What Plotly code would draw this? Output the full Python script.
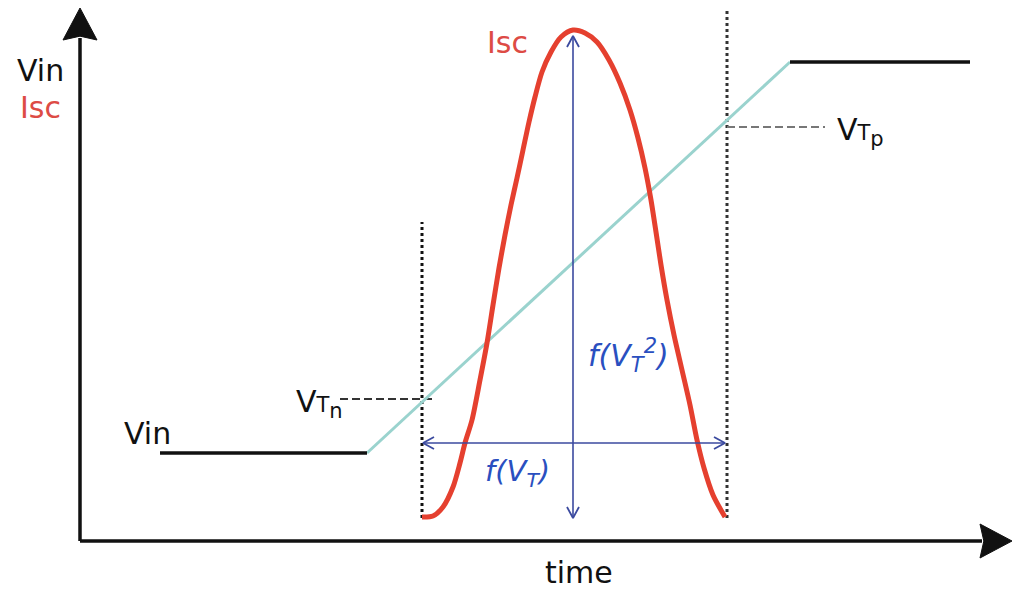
import numpy as np
import plotly.graph_objects as go

# ---- diagram data (time / level units, origin at the axes corner) ----
axis_time_end = 932          # tip of the time axis arrow
axis_level_end = 533         # tip of the level axis arrow

# Input voltage: low level, linear ramp, high level
vin_time = [80, 287, 710, 890]
vin_level = [88, 88, 479, 479]

# Threshold levels and the times at which the ramp crosses them
vtn_level = 142
vtp_level = 414
t_vtn = 342
t_vtp = 647
vtn_marker_top = 319
vtp_marker_top = 531
marker_bottom = 23

# Short-circuit current pulse
isc_time = [342, 353, 363, 373, 380, 385, 392, 400, 407, 413, 419, 425, 431, 437,
            443, 449, 455, 462, 471, 481, 493, 505, 517, 529, 540, 550, 558, 565,
            571, 576, 581, 587, 594, 602, 610, 617, 624, 633, 645]
isc_level = [24, 25, 34, 54, 78, 98, 121, 161, 198, 236, 273, 306, 336, 363,
             391, 419, 444, 469, 489, 504, 511, 508, 499, 481, 458, 431, 403, 373,
             341, 309, 276, 241, 206, 171, 136, 101, 73, 46, 24]

# Dimension arrows: width f(VT) and height f(VT^2)
width_arrow_level = 98
width_arrow_time = [343, 645]
height_arrow_time = 493
height_arrow_level = [23, 505]

FONT = "DejaVu Sans"
BLACK = "#111111"
RED_LINE = "#e5402f"
RED_TEXT = "#dd4b45"
TEAL = "#9ad3ce"
NAVY = "#3b4a9f"
BLUE_TEXT = "#2a4fc0"

fig = go.Figure()


def line(xs, ys, color, width, dash="solid"):
    fig.add_trace(go.Scatter(x=xs, y=ys, mode="lines", hoverinfo="skip",
                             line=dict(color=color, width=width, dash=dash)))


def filled_head(tip, direction, length=32, half=17):
    d = np.array(direction, float)
    d /= np.linalg.norm(d)
    n = np.array([-d[1], d[0]])
    tip = np.array(tip, float)
    base = tip - length * d
    pts = [tip, base + half * n, base + 0.12 * length * d, base - half * n, tip]
    fig.add_trace(go.Scatter(x=[p[0] for p in pts], y=[p[1] for p in pts],
                             mode="lines", fill="toself", fillcolor=BLACK,
                             line=dict(color=BLACK, width=1), hoverinfo="skip"))


def chevron(tip, direction, color, length=11, half=6):
    d = np.array(direction, float)
    d /= np.linalg.norm(d)
    n = np.array([-d[1], d[0]])
    tip = np.array(tip, float)
    base = tip - length * d
    p1, p2 = base + half * n, base - half * n
    line([p1[0], tip[0], p2[0]], [p1[1], tip[1], p2[1]], color, 1.8)


# Axes with arrow heads
line([0, 0], [0, axis_level_end - 30], BLACK, 3.5)
line([0, axis_time_end - 30], [0, 0], BLACK, 3.5)
filled_head((0, axis_level_end), (0, 1))
filled_head((axis_time_end, 0), (1, 0))

# Threshold markers
line([t_vtn, t_vtn], [marker_bottom, vtn_marker_top], BLACK, 3, "3px,3px")
line([t_vtp, t_vtp], [marker_bottom, vtp_marker_top], "#333333", 3, "3px,3px")
line([t_vtn - 82, t_vtn + 10], [vtn_level, vtn_level], "#333333", 1.8, "8px,4px")
line([t_vtp, t_vtp + 98], [vtp_level, vtp_level], "#777777", 1.8, "8px,4px")

# Input voltage
line(vin_time[1:3], vin_level[1:3], TEAL, 3)
line(vin_time[:2], vin_level[:2], BLACK, 3.5)
line(vin_time[2:], vin_level[2:], BLACK, 3.5)

# Short-circuit current
fig.add_trace(go.Scatter(x=isc_time, y=isc_level, mode="lines", hoverinfo="skip",
                         line=dict(color=RED_LINE, width=5, shape="spline",
                                   smoothing=0.8)))

# Dimension arrows
line(width_arrow_time, [width_arrow_level] * 2, NAVY, 1.6)
chevron((width_arrow_time[0], width_arrow_level), (-1, 0), NAVY)
chevron((width_arrow_time[1], width_arrow_level), (1, 0), NAVY)
line([height_arrow_time] * 2, height_arrow_level, NAVY, 1.6)
chevron((height_arrow_time, height_arrow_level[0]), (0, -1), NAVY)
chevron((height_arrow_time, height_arrow_level[1]), (0, 1), NAVY)


def label(x, y, text, color=BLACK, size=30, xanchor="center", yanchor="middle"):
    fig.add_annotation(x=x, y=y, text=text, showarrow=False, xanchor=xanchor,
                       yanchor=yanchor, font=dict(family=FONT, size=size, color=color))


label(-40, 471, "Vin")
label(-40, 434, "Isc", RED_TEXT)
label(427, 499, "Isc", RED_TEXT)
label(67, 108, "Vin")
label(499, -31, "time")
label(t_vtn - 77, vtn_level - 4, "V<span style='font-size:21px'>T</span><sub>n</sub>",
      xanchor="right")
label(t_vtp + 108, vtp_level - 4, "V<span style='font-size:21px'>T</span><sub>p</sub>",
      xanchor="left")
label(437, 68, "<i>f(V<sub>T</sub>)</i>", BLUE_TEXT, 29)
label(548, 186, "<i>f(V<sub>T</sub><sup>2</sup>)</i>", BLUE_TEXT, 30)

fig.update_layout(
    width=1015, height=589,
    margin=dict(l=0, r=0, t=0, b=0),
    paper_bgcolor="white", plot_bgcolor="white",
    showlegend=False,
    xaxis=dict(range=[-80, 935], visible=False, fixedrange=True),
    yaxis=dict(range=[-48, 541], visible=False, fixedrange=True),
)

fig.write_html("out.html")
